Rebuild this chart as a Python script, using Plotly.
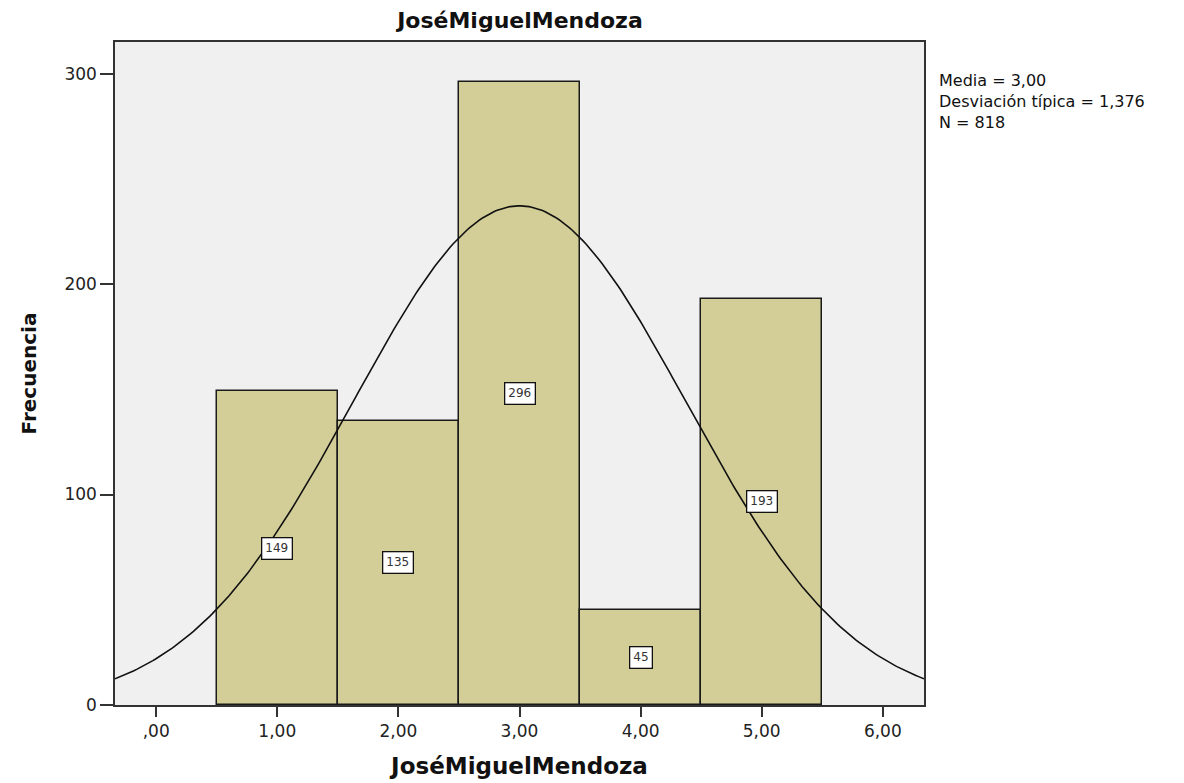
import numpy as np
import plotly.graph_objects as go

# datos del histograma
valores = [1, 2, 3, 4, 5]
frecuencias = [149, 135, 296, 45, 193]
etiquetas_x = [",00", "1,00", "2,00", "3,00", "4,00", "5,00", "6,00"]
ticks_x = [0, 1, 2, 3, 4, 5, 6]
ticks_y = [0, 100, 200, 300]

media = 3.00
desv = 1.376
n = 818
lineas_stats = ["Media = 3,00", "Desviación típica = 1,376", "N = 818"]

# curva normal ajustada (ancho de intervalo = 1)
xc = np.linspace(-0.34, 6.34, 300)
yc = n / (desv * np.sqrt(2 * np.pi)) * np.exp(-0.5 * ((xc - media) / desv) ** 2)

fuente = "DejaVu Sans, Verdana, sans-serif"

fig = go.Figure()
fig.add_trace(go.Bar(
    x=valores, y=frecuencias, width=1,
    marker=dict(color="#D3CE97", line=dict(color="#1a1a1a", width=1.5)),
    hoverinfo="x+y"))
fig.add_trace(go.Scatter(x=xc, y=yc, mode="lines",
                         line=dict(color="#111111", width=1.6), hoverinfo="skip"))

for v, f in zip(valores, frecuencias):
    fig.add_annotation(x=v, y=f / 2, text=str(f), showarrow=False,
                       font=dict(family=fuente, size=12, color="#333"),
                       bgcolor="white", bordercolor="#111", borderwidth=1.3, borderpad=3)

# texto de estadisticos a la derecha
fig.add_annotation(xref="paper", yref="paper", x=1.016, y=0.959,
                   xanchor="left", yanchor="top", align="left", showarrow=False,
                   text="<br>".join(lineas_stats),
                   font=dict(family=fuente, size=16, color="#111"))

fig.update_layout(
    width=1184, height=783,
    margin=dict(l=107, r=268, t=34, b=86),
    paper_bgcolor="white", plot_bgcolor="#F0F0F0",
    showlegend=False, bargap=0,
    title=dict(text="<b>JoséMiguelMendoza</b>", x=0.4324, xanchor="center",
               y=0.984, yanchor="middle",
               font=dict(family=fuente, size=22, color="#111")),
    font=dict(family=fuente, size=17, color="#222"),
)
fig.update_xaxes(
    range=[-0.34, 6.34], tickvals=ticks_x, ticktext=etiquetas_x,
    ticks="outside", ticklen=10, tickwidth=2, tickcolor="#333",
    showline=True, linecolor="#333", linewidth=1.5, mirror=True,
    showgrid=False, zeroline=False,
    title=dict(text="<b>JoséMiguelMendoza</b>", standoff=18,
               font=dict(family=fuente, size=23, color="#111")))
fig.update_yaxes(
    range=[0, 315], tickvals=ticks_y,
    ticks="outside", ticklen=13, tickwidth=1.5, tickcolor="#333",
    showline=True, linecolor="#333", linewidth=1.5, mirror=True,
    showgrid=False, zeroline=False,
    title=dict(text="<b>Frecuencia</b>", standoff=22,
               font=dict(family=fuente, size=20, color="#111")))

fig.write_html("out.html")
